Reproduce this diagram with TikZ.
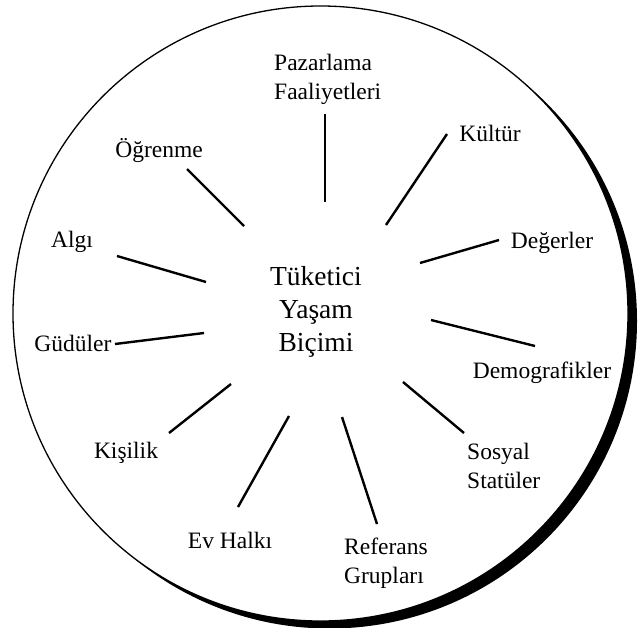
\documentclass[tikz,border=0pt]{standalone}
\usepackage{fontspec}
\setmainfont{Liberation Serif}
\begin{document}
\begin{tikzpicture}[x=1pt,y=-1pt,
  lbl/.style={inner sep=0pt, font=\fontsize{23.5}{29}\selectfont, align=left},
  ctr/.style={inner sep=0pt, font=\fontsize{27.5}{33}\selectfont, align=center},
  spoke/.style={line width=2.4pt}]
\useasboundingbox (0,0) rectangle (639,627);
% shadow and disc
\fill[black] (329.5,321) circle[radius=307.5];
\draw[fill=white, line width=1.3pt] (320.5,313.5) circle[radius=307.5];

% centre (base anchor = last line)
\node[ctr, anchor=base] (c) at (316,351) {Tüketici\\Yaşam\\Biçimi};

% labels
\node[lbl, anchor=base west] (paz) at (274,99) {Pazarlama\\Faaliyetleri};
\node[lbl, anchor=base] (kul) at (490,141) {Kültür};
\node[lbl, anchor=base] (ogr) at (159,157) {Öğrenme};
\node[lbl, anchor=base] (alg) at (72,247) {Algı};
\node[lbl, anchor=base] (deg) at (552,248) {Değerler};
\node[lbl, anchor=base] (gud) at (73,351) {Güdüler};
\node[lbl, anchor=base] (dem) at (542,378) {Demografikler};
\node[lbl, anchor=base] (kis) at (126,458) {Kişilik};
\node[lbl, anchor=base west] (sos) at (467,488) {Sosyal\\Statüler};
\node[lbl, anchor=base] (evh) at (230,548) {Ev Halkı};
\node[lbl, anchor=base west] (ref) at (344,583) {Referans\\Grupları};

% spoke end points
\coordinate (a1) at (325,114); \coordinate (b1) at (325,202);
\coordinate (a2) at (447,134); \coordinate (b2) at (386,225);
\coordinate (a3) at (187,169); \coordinate (b3) at (244,226);
\coordinate (a4) at (117,256); \coordinate (b4) at (206,282);
\coordinate (a5) at (499,240); \coordinate (b5) at (420,263);
\coordinate (a6) at (115,344); \coordinate (b6) at (204,333);
\coordinate (a7) at (535,346); \coordinate (b7) at (431,320);
\coordinate (a8) at (169,433); \coordinate (b8) at (231,384);
\coordinate (a9) at (464,433); \coordinate (b9) at (403,382);
\coordinate (a10) at (238,507); \coordinate (b10) at (289,416);
\coordinate (a11) at (377,524); \coordinate (b11) at (342,417);

\foreach \i in {1,...,11} { \draw[spoke] (a\i) -- (b\i); }
\end{tikzpicture}
\end{document}
